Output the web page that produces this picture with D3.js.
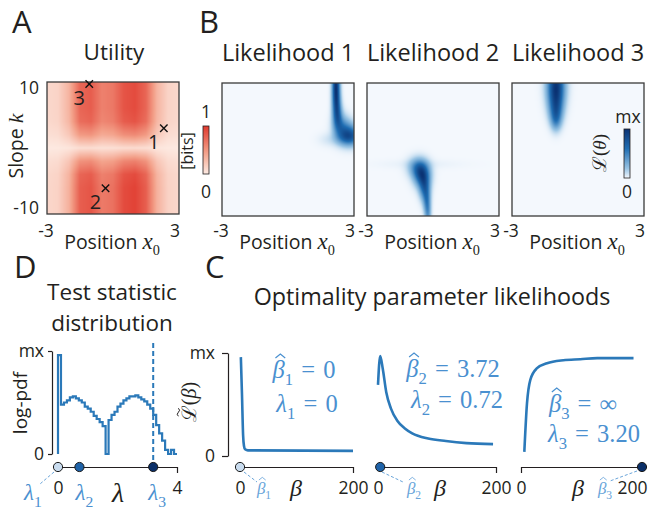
<!DOCTYPE html>
<html>
<head>
<meta charset="utf-8">
<script src="https://cdn.jsdelivr.net/npm/d3@7"></script>
<style>
  body { margin: 0; background: #fff; }
  svg { display: block; }
  text { fill: #231f20; font-family: 'Open Sans', sans-serif; }
</style>
</head>
<body>
<svg id="fig" width="648" height="510"></svg>
<script>
(function(){
    // ---- panel A: utility, read as a profile over position and one over slope
    var utilPos      = [-3, -2.5, -2, -1.5, -1, -0.5, 0, 0.5, 1, 1.5, 2, 2.5, 3];
    var utilPosVal   = [0.12, 0.15, 0.35, 0.8, 0.85, 0.65, 0.7, 0.9, 0.95, 0.8, 0.35, 0.15, 0.12];
    var utilSlope    = [-10, -8, -6, -4, -2, 0, 2, 4, 6, 8, 10];
    var utilSlopeVal = [1, 1, 1, 0.95, 0.65, 0.1, 0.6, 0.9, 0.95, 0.95, 0.95];
    var markerIds   = ['1', '2', '3'];
    var markerPos   = [2.31, -0.34, -1.08];
    var markerSlope = [3.0, -6.1, 9.7];

    // ---- panel B: likelihood ridges, [x0, k, spread x0, spread k, weight]
    var ridge1 = [[2.18, 11, 0.12, 1.5, 1], [2.18, 9, 0.12, 1.5, 1], [2.2, 7, 0.13, 1.5, 0.95],
                  [2.25, 5, 0.15, 1.4, 0.85], [2.4, 3.4, 0.25, 1.3, 0.6], [2.7, 2.6, 0.3, 1.2, 0.6],
                  [2.95, 2.0, 0.3, 1.0, 0.7], [2.6, 1.7, 0.3, 0.8, 0.4], [1.9, 1.5, 0.35, 0.7, 0.12]];
    var ridge2 = [[-0.68, -2.7, 0.3, 1.0, 0.6], [-0.5, -3.9, 0.25, 1.2, 1.0], [-0.38, -5.8, 0.17, 1.3, 0.75],
                  [-0.28, -7.8, 0.12, 1.3, 0.55], [-0.23, -9.8, 0.1, 1.3, 0.45], [-0.6, -2.2, 1.3, 0.5, 0.04]];
    var ridge3 = [[-1.0, 11, 0.28, 1.6, 1], [-1.0, 9, 0.28, 1.6, 1], [-1.0, 7, 0.25, 1.6, 0.95],
                  [-1.0, 5.2, 0.2, 1.3, 0.7], [-1.0, 4.0, 0.16, 1.0, 0.35]];
    var ridges = [ridge1, ridge2, ridge3];

    // ---- panel D: log-pdf of the test statistic, bins of 0.1
    var lambdaBin = 0.1;
    var logPdf = [0.96, 0.48, 0.50, 0.52, 0.55, 0.56, 0.54, 0.52, 0.50, 0.46,
                  0.44, 0.41, 0.37, 0.34, 0.31, 0.27, 0.00, 0.33, 0.38, 0.41,
                  0.46, 0.49, 0.52, 0.54, 0.56, 0.56, 0.57, 0.55, 0.53, 0.51,
                  0.48, 0.44, 0.38, 0.28, 0.20, 0.13, 0.04, 0.00, 0.04, 0.00];
    var lambdaVal = [0, 0.72, 3.20];

    // ---- panel C: optimality parameter likelihoods
    var betaHat = [0, 3.72, Infinity];
    var lik1Beta = [1.5, 3.5, 5.5, 7, 9, 14, 200];
    var lik1Val  = [0.96, 0.6, 0.2, 0.1, 0.065, 0.055, 0.05];
    var lik2Beta = [0, 3.72, 8, 14, 22, 33, 45, 58, 85, 115, 150, 195];
    var lik2Val  = [0.69, 0.97, 0.85, 0.62, 0.46, 0.34, 0.27, 0.22, 0.17, 0.145, 0.125, 0.115];
    var lik3Beta = [5.5, 9.9, 15.4, 26, 43, 70, 98, 126, 186];
    var lik3Val  = [0.04, 0.51, 0.74, 0.85, 0.90, 0.93, 0.94, 0.95, 0.95];
    var likBeta = [lik1Beta, lik2Beta, lik3Beta],
        likVal  = [lik1Val, lik2Val, lik3Val];

    var ink = '#231f20',
        blue = '#2b79b9',
        annot = '#4a90d0',
        pale = '#6aa5da';
    var dotFill = ['#c9dcef', '#1f63a9', '#0b2f68'];
    var sans = "'Open Sans', sans-serif",
        serif = "'Liberation Serif', serif";
    var sp = '\u2004';

    var svg = d3.select('#fig');

    // text built from parts: [string, style]; n = sans, i = italic serif, r = roman serif, s = subscript
    function mtext(parent, x, y, parts, size, color, anchor){
        var t = parent.append('text')
            .attr('x', x).attr('y', y)
            .attr('text-anchor', anchor || 'middle')
            .style('fill', color || ink);
        var shift = 0;
        parts.forEach(function(p){
            var s = t.append('tspan').text(p[0]);
            var want = p[1] == 's' ? size * 0.3 : 0;
            if (want != shift) { s.attr('dy', want - shift); shift = want; }
            s.attr('font-family', p[1] == 'n' ? sans : serif)
             .attr('font-style', p[1] == 'i' ? 'italic' : 'normal')
             .attr('font-size', p[1] == 's' ? size * 0.68 : (p[2] || size));
        });
        return t;
    }

    // circumflex or tilde over one glyph of a text
    function accent(parent, t, idx, baseY, size, color, kind){
        var e = t.node().getExtentOfChar(idx);
        var cx = e.x + e.width / 2 + size * 0.07,
            w = size * 0.2,
            top = baseY - size * 0.98;
        var d = kind == 'tilde'
            ? 'M' + (cx - w) + ',' + (top + size * 0.1) + ' q' + (w / 2) + ',' + (-size * 0.12) + ' ' + w + ',0 t' + w + ',0'
            : 'M' + (cx - w) + ',' + (top + size * 0.16) + ' L' + cx + ',' + top + ' L' + (cx + w) + ',' + (top + size * 0.16);
        parent.append('path').attr('d', d)
            .style('fill', 'none').style('stroke', color || ink).style('stroke-width', size * 0.05);
    }

    function rotated(x, y){
        return svg.append('g').attr('transform', 'translate(' + x + ',' + y + ') rotate(-90)');
    }

    function heat(left, top, w, h, valueAt, color){
        var cv = document.createElement('canvas');
        cv.width = w; cv.height = h;
        var ctx = cv.getContext('2d');
        var img = ctx.createImageData(w, h);
        for (var j = 0; j < h; j++) {
            for (var i = 0; i < w; i++) {
                var c = d3.rgb(color(valueAt(i + 0.5, j + 0.5)));
                var o = (j * w + i) * 4;
                img.data[o] = c.r; img.data[o + 1] = c.g; img.data[o + 2] = c.b; img.data[o + 3] = 255;
            }
        }
        ctx.putImageData(img, 0, 0);
        svg.append('image').attr('x', left).attr('y', top)
            .attr('width', w).attr('height', h)
            .attr('preserveAspectRatio', 'none')
            .attr('href', cv.toDataURL());
        svg.append('rect').attr('x', left).attr('y', top).attr('width', w).attr('height', h)
            .style('fill', 'none').style('stroke', '#3a3a3a').style('stroke-width', 1.3);
    }

    function gradient(id, color){
        var g = svg.append('defs').append('linearGradient').attr('id', id)
            .attr('x1', 0).attr('y1', 1).attr('x2', 0).attr('y2', 0);
        d3.range(0, 1.01, 0.1).forEach(function(v){
            g.append('stop').attr('offset', v).attr('stop-color', color(v));
        });
    }

    // panel letters
    [['A', 12, 33], ['B', 199, 33], ['D', 14, 278], ['C', 205, 278]].forEach(function(l){
        svg.append('text').attr('x', l[1]).attr('y', l[2]).attr('font-size', 31).text(l[0]);
    });

    // ================= A =================
    var aX = d3.scaleLinear().domain([-3, 3]).range([47, 179]);
    var aK = d3.scaleLinear().domain([10, -10]).range([82, 214]);
    var posProfile = d3.scaleLinear().domain(utilPos).range(utilPosVal).clamp(true);
    var slopeProfile = d3.scaleLinear().domain(utilSlope).range(utilSlopeVal).clamp(true);
    var redScale = d3.scaleLinear().domain([0, 0.45, 1]).range(['#fdebe3', '#f3a089', '#e0392e']).clamp(true);

    heat(47, 82, 132, 132, function(i, j){
        return posProfile(aX.invert(47 + i)) * slopeProfile(aK.invert(82 + j));
    }, redScale);

    var xSym = d3.symbol().type(d3.symbolX).size(38);
    markerIds.forEach(function(id, i){
        var mx = aX(markerPos[i]), my = aK(markerSlope[i]);
        svg.append('path').attr('d', xSym).attr('transform', 'translate(' + mx + ',' + my + ')')
            .style('fill', 'none').style('stroke', '#111').style('stroke-width', 1.4);
        svg.append('text').attr('x', mx - 10).attr('y', my + 21)
            .attr('text-anchor', 'middle').attr('font-size', 20).text(id);
    });

    svg.append('text').attr('x', 114).attr('y', 60).attr('text-anchor', 'middle').attr('font-size', 22.5).text('Utility');
    svg.append('text').attr('x', 39).attr('y', 94).attr('text-anchor', 'end').attr('font-size', 17.5).text('10');
    svg.append('text').attr('x', 39).attr('y', 214).attr('text-anchor', 'end').attr('font-size', 17.5).text('-10');
    mtext(rotated(23, 146), 0, 0, [['Slope ', 'n', 19.5], ['k', 'i', 22]], 19.5);

    // utility colour bar
    gradient('gradRed', redScale);
    svg.append('rect').attr('x', 203).attr('y', 126).attr('width', 6).attr('height', 48)
        .style('fill', 'url(#gradRed)').style('stroke', ink).style('stroke-width', 0.8);
    svg.append('text').attr('x', 206).attr('y', 118).attr('text-anchor', 'middle').attr('font-size', 17.5).text('1');
    svg.append('text').attr('x', 206).attr('y', 198).attr('text-anchor', 'middle').attr('font-size', 17.5).text('0');
    rotated(193, 151).append('text').attr('text-anchor', 'middle').attr('font-size', 16).text('[bits]');

    // x labels for A and the three B panels
    var boxLeft = [47, 222, 367, 512];
    boxLeft.forEach(function(left, i){
        svg.append('text').attr('x', left - 1).attr('y', 237).attr('text-anchor', 'middle').attr('font-size', 17.5).text('-3');
        svg.append('text').attr('x', left + 128).attr('y', 237).attr('text-anchor', 'middle').attr('font-size', 17.5).text('3');
        mtext(svg, left + 65, 249, [['Position ', 'n', 19.5], ['x', 'i', 23], ['0', 's']], 21);
    });

    // ================= B =================
    var blueScale = d3.scaleLinear().domain([0, 0.18, 0.6, 1])
        .range(['#f4f8fd', '#9cc6e5', '#1f6db2', '#0a3273']).clamp(true);
    var bX = d3.scaleLinear().domain([-3, 3]).range([0, 132]);
    var bK = d3.scaleLinear().domain([10, -10]).range([0, 133]);

    ridges.forEach(function(r, n){
        function raw(i, j){
            var p = bX.invert(i), k = bK.invert(j), s = 0;
            r.forEach(function(b){
                var dx = (p - b[0]) / b[2], dk = (k - b[1]) / b[3];
                s += b[4] * Math.exp(-0.5 * (dx * dx + dk * dk));
            });
            return s;
        }
        var top = 0;
        for (var j = 0; j < 133; j += 1) for (var i = 0; i < 132; i += 1) top = Math.max(top, raw(i + 0.5, j + 0.5));
        heat(boxLeft[n + 1], 83, 132, 133, function(i, j){ return raw(i, j) / top; }, blueScale);
        svg.append('text').attr('x', boxLeft[n + 1] + 66).attr('y', 61)
            .attr('text-anchor', 'middle').attr('font-size', 23.5).text('Likelihood ' + (n + 1));
    });

    gradient('gradBlue', blueScale);
    svg.append('rect').attr('x', 624).attr('y', 129).attr('width', 6).attr('height', 49)
        .style('fill', 'url(#gradBlue)').style('stroke', ink).style('stroke-width', 0.8);
    svg.append('text').attr('x', 628).attr('y', 123).attr('text-anchor', 'middle').attr('font-size', 17.5).text('mx');
    svg.append('text').attr('x', 627).attr('y', 198).attr('text-anchor', 'middle').attr('font-size', 17.5).text('0');
    mtext(rotated(606, 153), 0, 0, [['ℒ', 'r'], ['(', 'r'], ['θ', 'i'], [')', 'r']], 19);

    // ================= D =================
    var dX = d3.scaleLinear().domain([0, 4]).range([58, 177]);
    var dY = d3.scaleLinear().domain([0, 1]).range([454, 351]);

    svg.append('text').attr('x', 112).attr('y', 300).attr('text-anchor', 'middle').attr('font-size', 22.5).text('Test statistic');
    svg.append('text').attr('x', 112).attr('y', 331).attr('text-anchor', 'middle').attr('font-size', 22.5).text('distribution');

    svg.append('g').attr('transform', 'translate(52,0)')
        .call(d3.axisLeft(dY).tickValues([0, 1]).tickSize(4).tickSizeOuter(0).tickPadding(4)
            .tickFormat(function(d){ return d ? 'mx' : '0'; }));
    rotated(27, 403).append('text').attr('text-anchor', 'middle').attr('font-size', 19).text('log-pdf');

    var histPts = [[0, 0]].concat(logPdf.map(function(v, i){ return [i * lambdaBin, v]; }));
    histPts.push([logPdf.length * lambdaBin, logPdf[logPdf.length - 1]]);
    svg.append('path').datum(histPts)
        .attr('d', d3.line().curve(d3.curveStepAfter)
            .x(function(d){ return dX(d[0]); })
            .y(function(d){ return dY(d[1]); }))
        .style('fill', 'none').style('stroke', blue).style('stroke-width', 2.2);

    svg.append('line').attr('x1', dX(lambdaVal[2])).attr('x2', dX(lambdaVal[2]))
        .attr('y1', 343).attr('y2', 467)
        .style('stroke', blue).style('stroke-width', 2).style('stroke-dasharray', '5,3');

    var dAxisX = svg.append('g').attr('transform', 'translate(0,467)')
        .call(d3.axisBottom(dX).tickValues([0, 4]).tickFormat(d3.format('d'))
            .tickSize(6).tickSizeOuter(0).tickPadding(9));
    dAxisX.selectAll('.tick line').filter(function(d){ return d === 0; }).remove();

    svg.append('line').attr('x1', 54).attr('y1', 472).attr('x2', 40).attr('y2', 484)
        .style('stroke', pale).style('stroke-width', 1).style('stroke-dasharray', '3,2');
    lambdaVal.forEach(function(v, i){
        svg.append('circle').attr('cx', dX(v)).attr('cy', 467).attr('r', 4.6)
            .style('fill', dotFill[i]).style('stroke', '#1a1a1a').style('stroke-width', 1);
    });
    var lamX = [33, dX(lambdaVal[1]) + 5, dX(lambdaVal[2]) + 4];
    lamX.forEach(function(x, i){
        mtext(svg, x, 500, [['λ', 'i'], [String(i + 1), 's']], 23, annot);
    });
    mtext(svg, 118, 502, [['λ', 'i']], 28, ink);

    // ================= C =================
    var cY = d3.scaleLinear().domain([0, 1]).range([456, 353]);
    var cRange = [[240, 353], [378, 496], [521, 642]];

    svg.append('text').attr('x', 432).attr('y', 305).attr('text-anchor', 'middle').attr('font-size', 23.3).text('Optimality parameter likelihoods');

    svg.append('g').attr('transform', 'translate(228,0)')
        .call(d3.axisLeft(cY).tickValues([0, 1]).tickSize(6).tickSizeOuter(0).tickPadding(7)
            .tickFormat(function(d){ return d ? 'mx' : '0'; }));
    var lg = rotated(196, 402);
    var lt = mtext(lg, 0, 0, [['ℒ', 'r'], ['(', 'r'], ['β', 'i'], [')', 'r']], 20);
    accent(lg, lt, 0, 0, 20, ink, 'tilde');

    var fmt = function(v){ return v === 0 ? '0' : (v === Infinity ? '∞' : d3.format('.2f')(v)); };
    var betaTextAt = [[304, 378, 307, 412], [453, 377, 457, 408], [583, 412, 594, 442]];
    var betaLblX = [264, 414, 605];
    var betaX = [296, 440, 578];
    var leader = [[244, 472, 257, 482], [382, 472, 403, 482], [637, 471, 610, 481]];

    cRange.forEach(function(rg, i){
        var x = d3.scaleLinear().domain([0, 200]).range(rg);
        var pts = likBeta[i].map(function(b, j){ return [b, likVal[i][j]]; });
        svg.append('path').datum(pts)
            .attr('d', d3.line().curve(d3.curveMonotoneX)
                .x(function(d){ return x(d[0]); })
                .y(function(d){ return cY(d[1]); }))
            .style('fill', 'none').style('stroke', blue).style('stroke-width', 2.6);

        var ax = svg.append('g').attr('transform', 'translate(0,467)')
            .call(d3.axisBottom(x).tickValues([0, 200]).tickSize(6).tickSizeOuter(0).tickPadding(9));
        ax.selectAll('.tick line').filter(function(d){ return i == 2 ? d === 200 : d === 0; }).remove();
        if (i == 2) {
            // keep the last label inside the picture
            ax.selectAll('.tick').filter(function(d){ return d === 200; })
                .select('text').attr('text-anchor', 'end').attr('x', 647 - rg[1]);
        }

        var l = leader[i];
        svg.append('line').attr('x1', l[0]).attr('y1', l[1]).attr('x2', l[2]).attr('y2', l[3])
            .style('stroke', pale).style('stroke-width', 1).style('stroke-dasharray', '3,2');
        svg.append('circle').attr('cx', x(Math.min(betaHat[i], 200))).attr('cy', 467).attr('r', 4.6)
            .style('fill', dotFill[i]).style('stroke', '#1a1a1a').style('stroke-width', 1);

        var bt = mtext(svg, betaLblX[i], 494, [['β', 'i'], [String(i + 1), 's']], 17, pale);
        accent(svg, bt, 0, 494, 17, pale, 'hat');
        mtext(svg, betaX[i], 496, [['β', 'i']], 24, ink);

        var p = betaTextAt[i];
        var t1 = mtext(svg, p[0], p[1], [['β', 'i'], [String(i + 1), 's'], [sp + '=' + sp + fmt(betaHat[i]), 'r']], 24.5, annot);
        accent(svg, t1, 0, p[1], 24.5, annot, 'hat');
        mtext(svg, p[2], p[3], [['λ', 'i'], [String(i + 1), 's'], [sp + '=' + sp + fmt(lambdaVal[i]), 'r']], 24.5, annot);
    });

    // axis styling
    svg.selectAll('.domain, .tick line').style('stroke', ink).style('stroke-width', 1.2);
    svg.selectAll('.tick text').attr('font-family', sans).attr('font-size', 17.5).style('fill', ink);
    svg.selectAll('g[font-family]').attr('font-family', null).attr('font-size', null);
})();
</script>
</body>
</html>
